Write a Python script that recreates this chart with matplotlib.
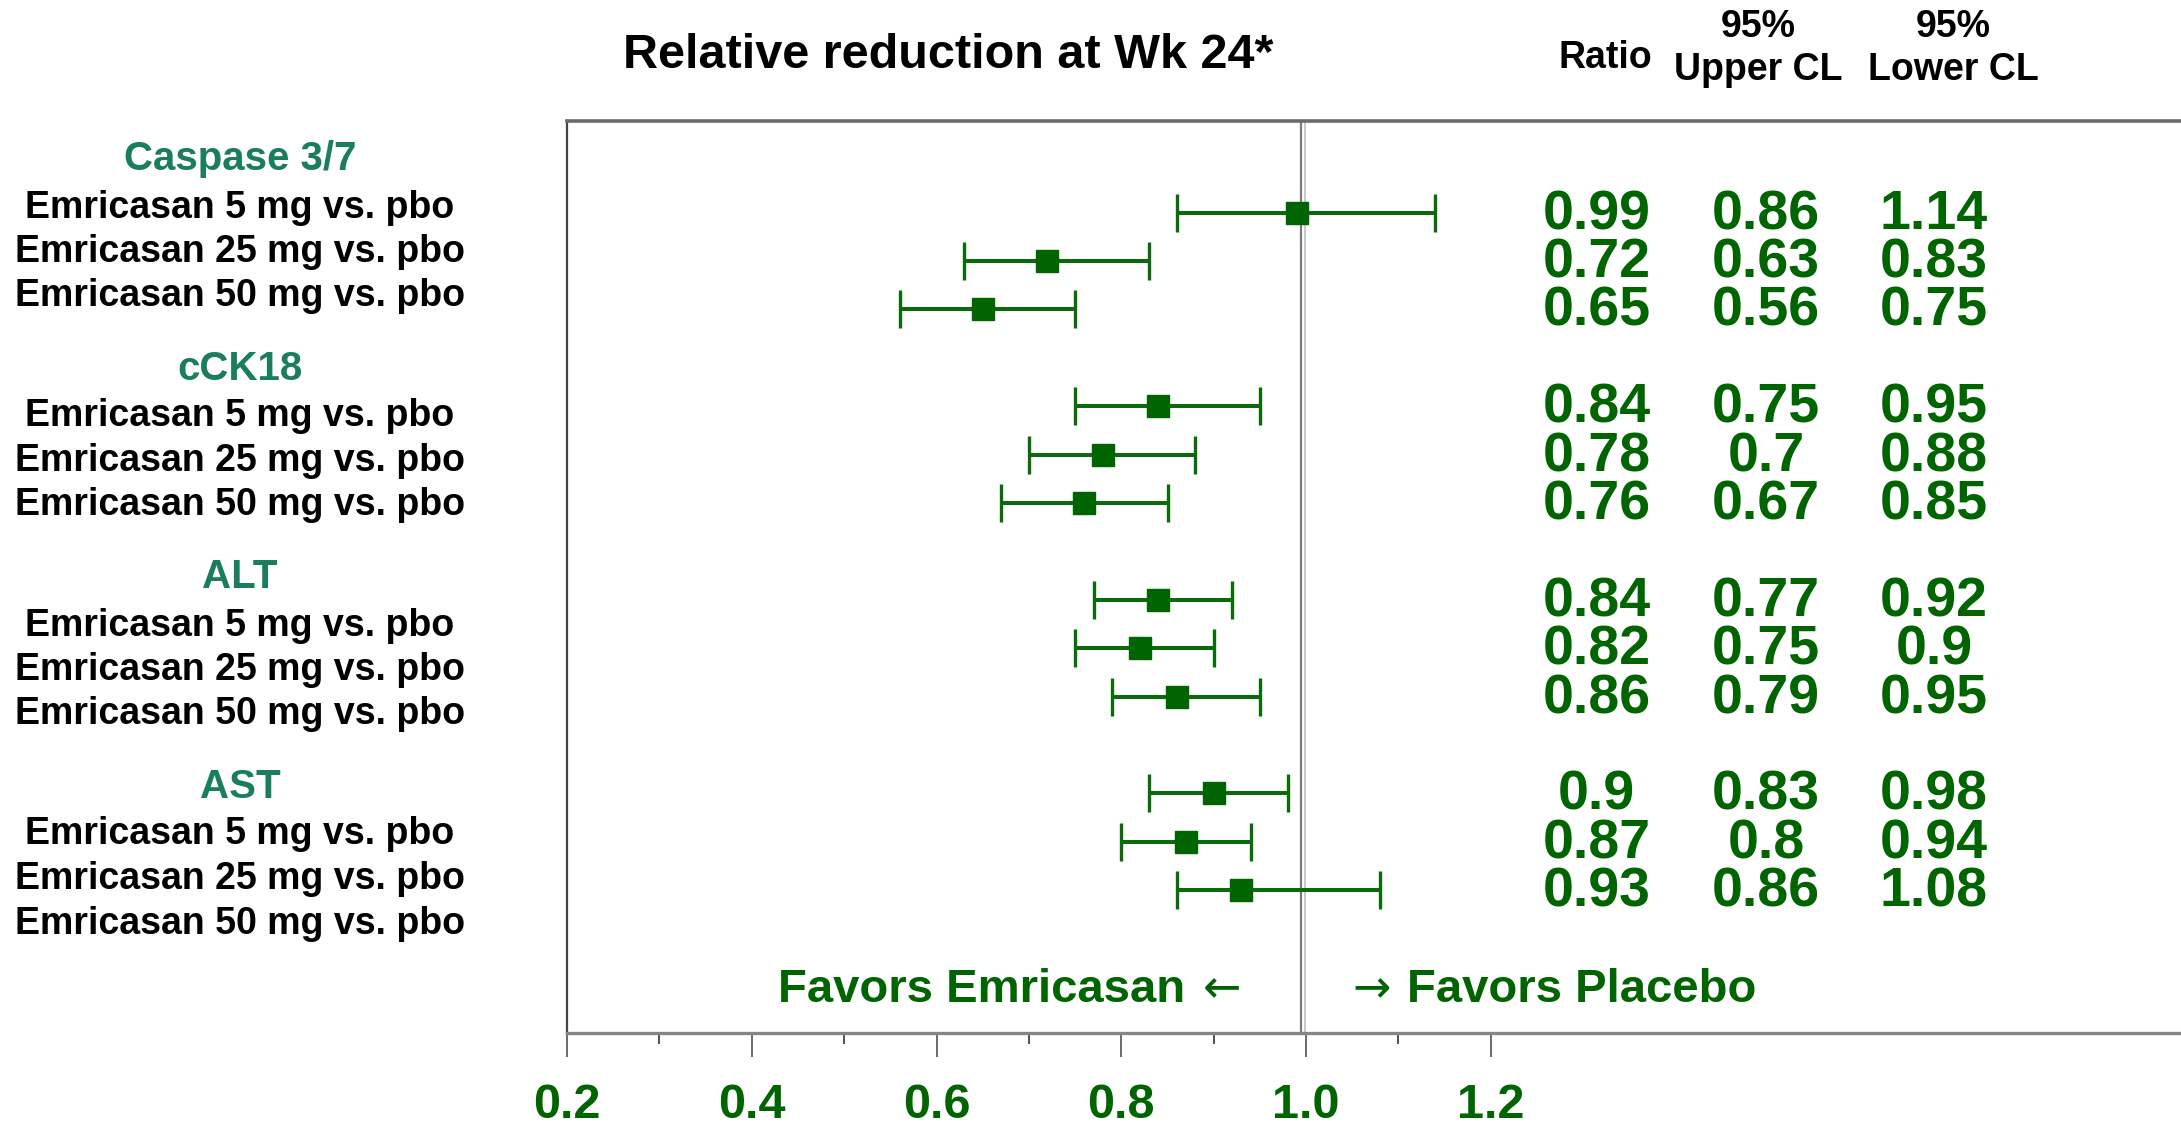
import matplotlib
matplotlib.use("Agg")
import matplotlib.pyplot as plt
from matplotlib import font_manager
from matplotlib.transforms import blended_transform_factory
from matplotlib.ticker import FixedLocator, FormatStrFormatter

# ---------------- data ----------------
groups = ["Caspase 3/7", "cCK18", "ALT", "AST"]
comparisons = ["Emricasan 5 mg vs. pbo", "Emricasan 25 mg vs. pbo", "Emricasan 50 mg vs. pbo"]
ratio = [0.99, 0.72, 0.65, 0.84, 0.78, 0.76, 0.84, 0.82, 0.86, 0.90, 0.87, 0.93]
upper_cl = [0.86, 0.63, 0.56, 0.75, 0.70, 0.67, 0.77, 0.75, 0.79, 0.83, 0.80, 0.86]
lower_cl = [1.14, 0.83, 0.75, 0.95, 0.88, 0.85, 0.92, 0.90, 0.95, 0.98, 0.94, 1.08]
col_headers = ["Ratio", "95%\nUpper CL", "95%\nLower CL"]
tick_values = [0.2, 0.4, 0.6, 0.8, 1.0, 1.2]
minor_tick_values = [0.3, 0.5, 0.7, 0.9, 1.1]
title = "Relative reduction at Wk 24*"
favors_left = "Favors Emricasan"
favors_right = "Favors Placebo"
arrow_left = "\u2190"
arrow_right = "\u2192"

# ---------------- style ----------------
W, H = 2181, 1128
DPI = 100
names = {f.name for f in font_manager.fontManager.ttflist}
BASE = ["Liberation Sans", "DejaVu Sans"]
HAS_NARROW = "Liberation Sans Narrow" in names
NARROW = ["Liberation Sans Narrow"] + BASE if HAS_NARROW else BASE
plt.rcParams["font.family"] = BASE

DKGREEN = "#006400"
BARGREEN = "#0b6b0b"
TEAL = "#1a7d5c"

fig = plt.figure(figsize=(W / DPI, H / DPI), dpi=DPI)
ax_left, ax_top, ax_bottom = 567, 121, 1033
ax = fig.add_axes([ax_left / W, 1 - ax_bottom / H, 1 - ax_left / W, (ax_bottom - ax_top) / H])

# row positions: three rows per group, one empty row between groups
ypos = []
for g in range(len(groups)):
    for i in range(len(comparisons)):
        ypos.append(g * 4 + i)

xerr_lo = [r - u for r, u in zip(ratio, upper_cl)]
xerr_hi = [l - r for r, l in zip(ratio, lower_cl)]

ax.set_xlim(0.2, 1.947)
ax.set_ylim(16.95, -1.895)

# reference line at 1.0 (double line)
ax.axvline(0.9948, color="#7a7a7a", lw=1.6, zorder=1)
ax.axvline(0.9990, color="#c8c8c8", lw=1.4, zorder=1)

ax.errorbar(ratio, ypos, xerr=[xerr_lo, xerr_hi], fmt="s", color=BARGREEN,
            ecolor=BARGREEN, elinewidth=2.9, capsize=13.5, capthick=2.4,
            markersize=16, markerfacecolor=DKGREEN, markeredgecolor=DKGREEN, zorder=3)

# numbers columns
col_x = [0.638, 0.743, 0.847]
tr = blended_transform_factory(ax.transAxes, ax.transData)
for vals, cx in zip([ratio, upper_cl, lower_cl], col_x):
    for v, y in zip(vals, ypos):
        ax.text(cx, y + 0.05, f"{v:g}", transform=tr, ha="center", va="center",
                fontsize=40, fontweight="bold", color=DKGREEN, family=BASE)

# favors text
trf = blended_transform_factory(ax.transData, ax.transAxes)
fav_y = (ax_bottom - 1002) / (ax_bottom - ax_top)
arr_y = (ax_bottom - 990) / (ax_bottom - ax_top)
ax.text(0.869, fav_y, favors_left, transform=trf, ha="right", va="baseline",
        fontsize=34, fontweight="bold", color=DKGREEN)
ax.text(0.909, arr_y, arrow_left, transform=trf, ha="center", va="center",
        fontsize=33, color=DKGREEN, family=["DejaVu Sans"])
ax.text(1.0704, arr_y, arrow_right, transform=trf, ha="center", va="center",
        fontsize=33, color=DKGREEN, family=["DejaVu Sans"])
ax.text(1.109, fav_y, favors_right, transform=trf, ha="left", va="baseline",
        fontsize=34, fontweight="bold", color=DKGREEN)

# axes styling
ax.spines["right"].set_visible(False)
ax.spines["top"].set_color("#6a6a6a")
ax.spines["top"].set_linewidth(2.6)
ax.spines["left"].set_color("#444444")
ax.spines["left"].set_linewidth(1.6)
ax.spines["bottom"].set_color("#858585")
ax.spines["bottom"].set_linewidth(2.4)

ax.yaxis.set_visible(False)
ax.xaxis.set_major_locator(FixedLocator(tick_values))
ax.xaxis.set_minor_locator(FixedLocator(minor_tick_values))
ax.xaxis.set_major_formatter(FormatStrFormatter("%.1f"))
ax.tick_params(axis="x", which="major", direction="out", length=17, width=1.4,
               color="#6a6a6a", pad=19, labelsize=(39 if HAS_NARROW else 35),
               labelcolor=DKGREEN)
ax.tick_params(axis="x", which="minor", direction="out", length=8, width=1.2, color="#333333")
for lab in ax.get_xticklabels():
    lab.set_fontweight("bold")
    lab.set_family(NARROW)

# title and column headers
fig.text(948 / W, 1 - 68 / H, title, ha="center", va="baseline", fontsize=35,
         fontweight="bold", color="black")
fig.text(1605 / W, 1 - 68 / H, col_headers[0], ha="center", va="baseline", fontsize=27,
         fontweight="bold", color="black")
for cx, txt in zip([1758, 1953], col_headers[1:]):
    l1, l2 = txt.split("\n")
    fig.text(cx / W, 1 - 37 / H, l1, ha="center", va="baseline", fontsize=27,
             fontweight="bold", color="black")
    fig.text(cx / W, 1 - 80 / H, l2, ha="center", va="baseline", fontsize=27,
             fontweight="bold", color="black")

# left labels
lab_x = 240 / W
for g, name in enumerate(groups):
    hc = 156 + 209 * g
    fig.text(lab_x, 1 - (hc + 14.5) / H, name, ha="center", va="baseline", fontsize=29,
             fontweight="bold", color=TEAL)
    for i, comp in enumerate(comparisons):
        cc = hc + 48 + 44.5 * i
        fig.text(lab_x, 1 - (cc + 13.5) / H, comp, ha="center", va="baseline", fontsize=27,
                 fontweight="bold", color="black")

fig.savefig("out.png", dpi=DPI)
